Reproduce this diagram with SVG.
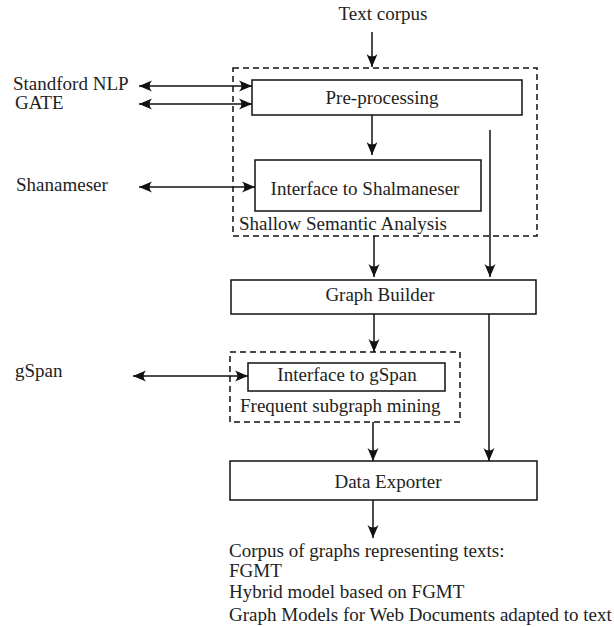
<svg xmlns="http://www.w3.org/2000/svg" width="614" height="627" viewBox="0 0 614 627">
  <style>
    text { font-family: "Liberation Serif", serif; font-size: 19px; fill: #222; }
    .box { fill: #fff; stroke: #111; stroke-width: 1.5; }
    .group { fill: none; stroke: #111; stroke-width: 1.5; stroke-dasharray: 6 4; }
    .edge { fill: none; stroke: #111; stroke-width: 1.5; }
  </style>
  <defs>
    <!-- stealth-style arrowhead, reused for both ends of the two-way links -->
    <marker id="head" viewBox="-14 -7 16 14" markerWidth="16" markerHeight="14" refX="0" refY="0" orient="auto-start-reverse" markerUnits="userSpaceOnUse">
      <path d="M0,0 L-13,-5.5 Q-8,0 -13,5.5 Z" fill="#111"/>
    </marker>
  </defs>

  <rect width="614" height="627" fill="#fff"/>

  <!-- containers -->
  <g id="shallow-semantic-analysis">
    <rect class="group" x="233" y="68" width="304" height="168"/>
    <text x="239" y="230">Shallow Semantic Analysis</text>
  </g>
  <g id="frequent-subgraph-mining">
    <rect class="group" x="230" y="352" width="230" height="70"/>
    <text x="240" y="412">Frequent subgraph mining</text>
  </g>

  <!-- external labels -->
  <g id="text-corpus"><text x="383" y="20" text-anchor="middle">Text corpus</text></g>
  <g id="stanford-nlp"><text x="13" y="90">Standford NLP</text></g>
  <g id="gate"><text x="15" y="109">GATE</text></g>
  <g id="shalmaneser"><text x="16" y="191">Shanameser</text></g>
  <g id="gspan"><text x="15" y="377">gSpan</text></g>

  <!-- processing nodes -->
  <g id="pre-processing">
    <rect class="box" x="252" y="80" width="270" height="35"/>
    <text x="382" y="104" text-anchor="middle">Pre-processing</text>
  </g>
  <g id="interface-shalmaneser">
    <rect class="box" x="255" y="160" width="226" height="51"/>
    <text x="365" y="195" text-anchor="middle">Interface to Shalmaneser</text>
  </g>
  <g id="graph-builder">
    <rect class="box" x="231" y="280" width="305" height="34"/>
    <text x="380" y="301" text-anchor="middle">Graph Builder</text>
  </g>
  <g id="interface-gspan">
    <rect class="box" x="248" y="363" width="197" height="28"/>
    <text x="347" y="381" text-anchor="middle">Interface to gSpan</text>
  </g>
  <g id="data-exporter">
    <rect class="box" x="230" y="461" width="307" height="39"/>
    <text x="388" y="488" text-anchor="middle">Data Exporter</text>
  </g>

  <!-- output description -->
  <g id="output">
    <text x="229" y="557">Corpus of graphs representing texts:</text>
    <text x="229" y="577">FGMT</text>
    <text x="229" y="598">Hybrid model based on FGMT</text>
    <text x="229" y="621">Graph Models for Web Documents adapted to text</text>
  </g>

  <!-- connectors -->
  <g id="connectors">
    <line class="edge" x1="372" y1="32" x2="372" y2="67" marker-end="url(#head)"/>
    <line class="edge" x1="139" y1="86" x2="252" y2="86" marker-start="url(#head)" marker-end="url(#head)"/>
    <line class="edge" x1="139" y1="104" x2="252" y2="104" marker-start="url(#head)" marker-end="url(#head)"/>
    <line class="edge" x1="372" y1="115" x2="372" y2="155" marker-end="url(#head)"/>
    <line class="edge" x1="139" y1="187" x2="255" y2="187" marker-start="url(#head)" marker-end="url(#head)"/>
    <line class="edge" x1="490" y1="130" x2="490" y2="277" marker-end="url(#head)"/>
    <line class="edge" x1="374" y1="236" x2="374" y2="277" marker-end="url(#head)"/>
    <line class="edge" x1="374" y1="314" x2="374" y2="352" marker-end="url(#head)"/>
    <line class="edge" x1="133" y1="376" x2="248" y2="376" marker-start="url(#head)" marker-end="url(#head)"/>
    <line class="edge" x1="489" y1="314" x2="489" y2="461" marker-end="url(#head)"/>
    <line class="edge" x1="373" y1="422" x2="373" y2="461" marker-end="url(#head)"/>
    <line class="edge" x1="373" y1="500" x2="373" y2="538" marker-end="url(#head)"/>
  </g>
</svg>
